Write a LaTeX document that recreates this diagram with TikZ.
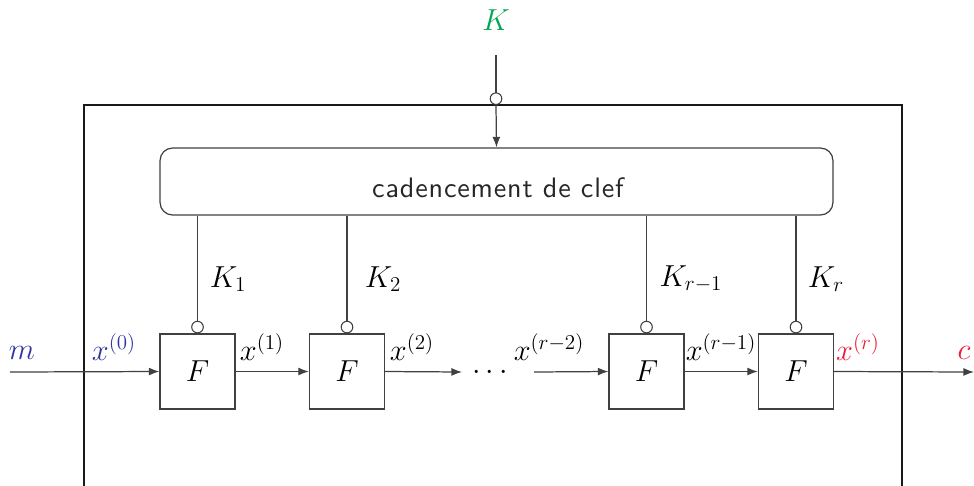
\documentclass[tikz,border=0pt]{standalone}
\usepackage{fontspec}
\newfontfamily\kssf[LetterSpace=3]{lmsans10-regular.otf}
\usetikzlibrary{arrows.meta}
\definecolor{cblue}{RGB}{52,52,160}
\definecolor{cgreen}{RGB}{0,166,81}
\definecolor{cred}{RGB}{237,28,56}
\begin{document}
\begin{tikzpicture}[x=0.02cm,y=-0.02cm,
  font=\fontsize{16.5}{20}\selectfont,
  ln/.style={draw=black!75,line width=0.7pt},
  arr/.style={ln,-{Latex[length=6pt,width=4.5pt]}},
  ckey/.style={ln,-{Circle[open,length=7.2pt,width=7.2pt,line width=0.6pt]}},
  fbox/.style={draw=black!75,line width=0.7pt,minimum width=1.5cm,minimum height=1.5cm,inner sep=0pt},
  kbox/.style={draw=black!75,line width=0.7pt,rounded corners=0.25cm,minimum width=13.46cm,minimum height=1.34cm,inner sep=0pt},
  lbl/.style={inner sep=0pt}]
\useasboundingbox (0,0) rectangle (974,485);
% frame
\draw[black!90,line width=1.4pt] (84,490) -- (84,105) -- (902,105) -- (902,490);
% key schedule
\node[kbox] (ks) at (496.5,181.5) {};
\node[lbl,text=black!85,font=\kssf\fontsize{16}{18}\selectfont] (kstext) at (498,188) {cadencement de clef};
% F boxes
\node[fbox] (F1) at (197.5,371.5) {$F$};
\node[fbox] (F2) at (347,371.5) {$F$};
\node[fbox] (F3) at (646.5,371.5) {$F$};
\node[fbox] (F4) at (796,371.5) {$F$};
% master key
\node[lbl,text=cgreen] (K) at (496,20) {$K$};
\coordinate (kin) at (496,55);
\coordinate (kf) at (496,105);
\draw[ckey] (kin) -- (kf);
\draw[arr] (kf) -- (ks.north);
% round keys
\draw[ckey] (ks.south -| F1.north) -- (F1.north);
\draw[ckey] (ks.south -| F2.north) -- (F2.north);
\draw[ckey] (ks.south -| F3.north) -- (F3.north);
\draw[ckey] (ks.south -| F4.north) -- (F4.north);
\node[lbl] (k1) at (228,279) {$K_1$};
\node[lbl] (k2) at (383,279) {$K_2$};
\node[lbl] (k3) at (691,279) {$K_{r-1}$};
\node[lbl] (k4) at (826,279) {$K_r$};
% data path
\coordinate (min) at (10,372);
\coordinate (cout) at (974,372);
\coordinate (a2) at (462,372);
\coordinate (b3) at (534,372);
\draw[arr] (min) -- (F1.west);
\draw[arr] (F1.east) -- (F2.west);
\draw[arr] (F2.east) -- (a2);
\node[lbl] (dots) at (490,373) {$\cdots$};
\draw[arr] (b3) -- (F3.west);
\draw[arr] (F3.east) -- (F4.west);
\draw[arr] (F4.east) -- (cout);
% labels
\node[lbl,text=cblue] (m) at (22,353) {$m$};
\node[lbl,text=cblue] (x0) at (114,347) {$x^{(0)}$};
\node[lbl] (x1) at (262,347) {$x^{(1)}$};
\node[lbl] (x2) at (412,347) {$x^{(2)}$};
\node[lbl] (x3) at (549,347) {$x^{(r-2)}$};
\node[lbl] (x4) at (721,347) {$x^{(r-1)}$};
\node[lbl,text=cred] (x5) at (858,347) {$x^{(r)}$};
\node[lbl,text=cred] (c) at (964,353) {$c$};
\end{tikzpicture}
\end{document}
